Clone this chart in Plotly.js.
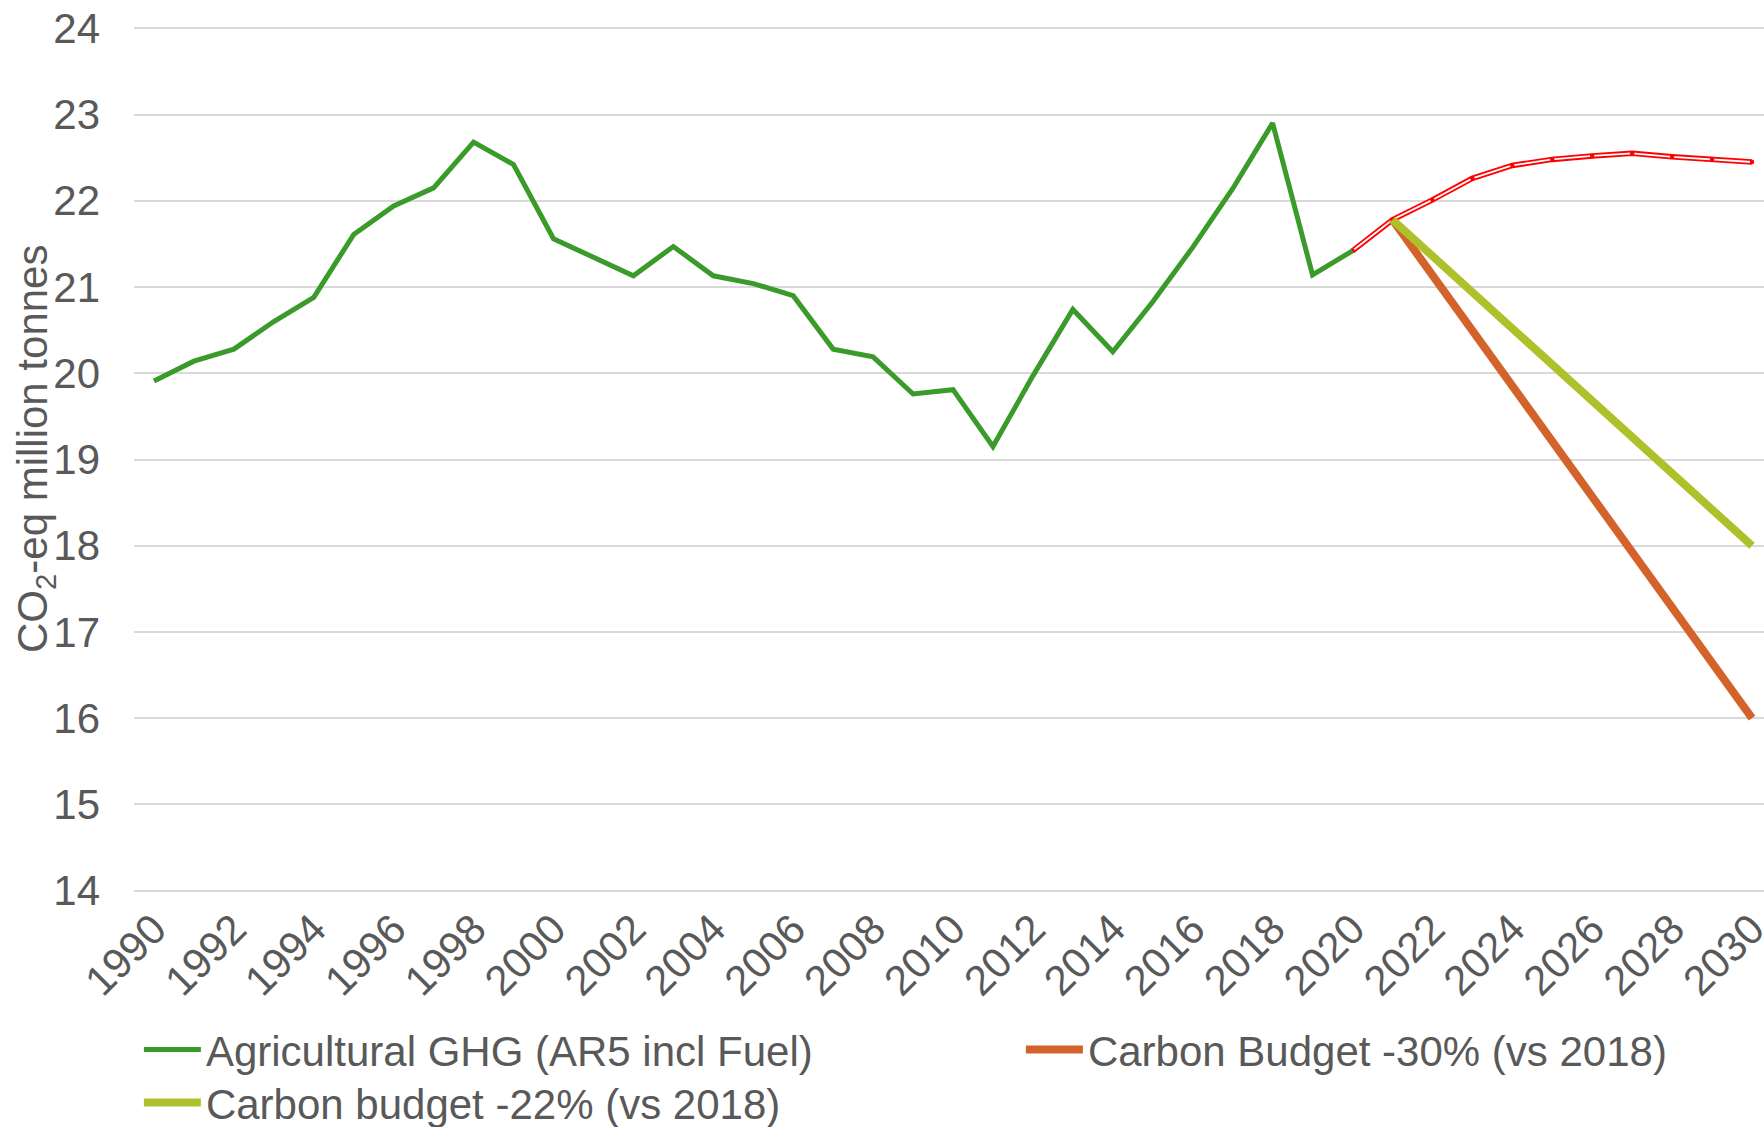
<!DOCTYPE html>
<html>
<head>
<meta charset="utf-8">
<script src="https://cdn.plot.ly/plotly-3.0.1.min.js"></script>
<style>
  html, body { margin: 0; padding: 0; background: #fff; }
  #chart { width: 1764px; height: 1127px; }
</style>
</head>
<body>
<div id="chart"></div>
<script>
// history 1990-2020
const histYears = [1990, 1991, 1992, 1993, 1994, 1995, 1996, 1997, 1998, 1999,
                   2000, 2001, 2002, 2003, 2004, 2005, 2006, 2007, 2008, 2009,
                   2010, 2011, 2012, 2013, 2014, 2015, 2016, 2017, 2018, 2019, 2020];
const histGHG = [19.91, 20.14, 20.28, 20.60, 20.88, 21.61, 21.94, 22.15, 22.68, 22.42,
                 21.56, 21.35, 21.13, 21.47, 21.13, 21.04, 20.90, 20.28, 20.19, 19.76,
                 19.81, 19.15, 19.97, 20.74, 20.25, 20.83, 21.46, 22.14, 22.90, 21.14, 21.42];

// projection 2020-2030 (red double line, no legend entry)
const projYears = [2020, 2021, 2022, 2023, 2024, 2025, 2026, 2027, 2028, 2029, 2030];
const projGHG = [21.42, 21.78, 22.01, 22.26, 22.41, 22.48, 22.52, 22.55, 22.51, 22.48, 22.45];

// budgets
const budgetYears = [2021, 2030];
const budget30 = [21.78, 16.0];
const budget22 = [21.78, 18.0];

const xTicks = [];
for (let y = 1990; y <= 2030; y += 2) xTicks.push(y);

const txt = '#595959';
const fnt = 'Liberation Sans, Arial, sans-serif';

const data = [
  { x: projYears, y: projGHG, mode: 'lines', showlegend: false, hoverinfo: 'skip',
    line: { color: '#FF0000', width: 5.5 } },
  { x: projYears, y: projGHG, mode: 'lines+markers', showlegend: false,
    line: { color: '#FFFFFF', width: 1.8 },
    marker: { color: '#FF0000', size: 4.5, symbol: 'circle' } },
  { x: histYears, y: histGHG, mode: 'lines', name: 'Agricultural GHG (AR5 incl Fuel)',
    line: { color: '#3A9A2A', width: 5 }, legend: 'legend', legendwidth: 810 },
  { x: budgetYears, y: budget30, mode: 'lines', name: 'Carbon Budget -30% (vs 2018)',
    line: { color: '#D3622B', width: 8 }, legend: 'legend', legendwidth: 600 },
  { x: budgetYears, y: budget22, mode: 'lines', name: 'Carbon budget -22% (vs 2018)',
    line: { color: '#AFC12A', width: 8 }, legend: 'legend2' }
];

const legendBase = {
  orientation: 'h', xanchor: 'left', yanchor: 'top', x: 0.003,
  font: { family: fnt, size: 42, color: txt }, itemwidth: 57,
  bgcolor: 'rgba(0,0,0,0)', traceorder: 'normal'
};

const layout = {
  width: 1764, height: 1127,
  margin: { l: 134, r: 0, t: 23.7, b: 231.7, autoexpand: false },
  paper_bgcolor: '#fff', plot_bgcolor: '#fff',
  font: { family: fnt, color: txt, size: 42 },
  showlegend: true,
  legend: Object.assign({}, legendBase, { y: -0.1385 }),
  legend2: Object.assign({}, legendBase, { y: -0.1993 }),
  xaxis: {
    type: 'linear', range: [1989.5, 2030.3],
    tickvals: xTicks, tickangle: -45, showgrid: false, zeroline: false,
    ticks: '', ticklabeloverflow: 'allow',
    tickfont: { family: fnt, size: 42, color: txt }
  },
  yaxis: {
    range: [13.95, 24.05], dtick: 1, tick0: 14,
    gridcolor: '#D9D9D9', gridwidth: 2, zeroline: false, ticks: '',
    ticklabelstandoff: 33,
    tickfont: { family: fnt, size: 42, color: txt }
  },
  annotations: [{
    text: 'CO<sub>2</sub>-eq million tonnes', textangle: -90,
    xref: 'paper', yref: 'paper', x: -0.0608, y: 0.513,
    xanchor: 'center', yanchor: 'middle', showarrow: false,
    font: { family: fnt, size: 42, color: txt }
  }]
};

Plotly.newPlot('chart', data, layout, { staticPlot: true });
</script>
</body>
</html>
